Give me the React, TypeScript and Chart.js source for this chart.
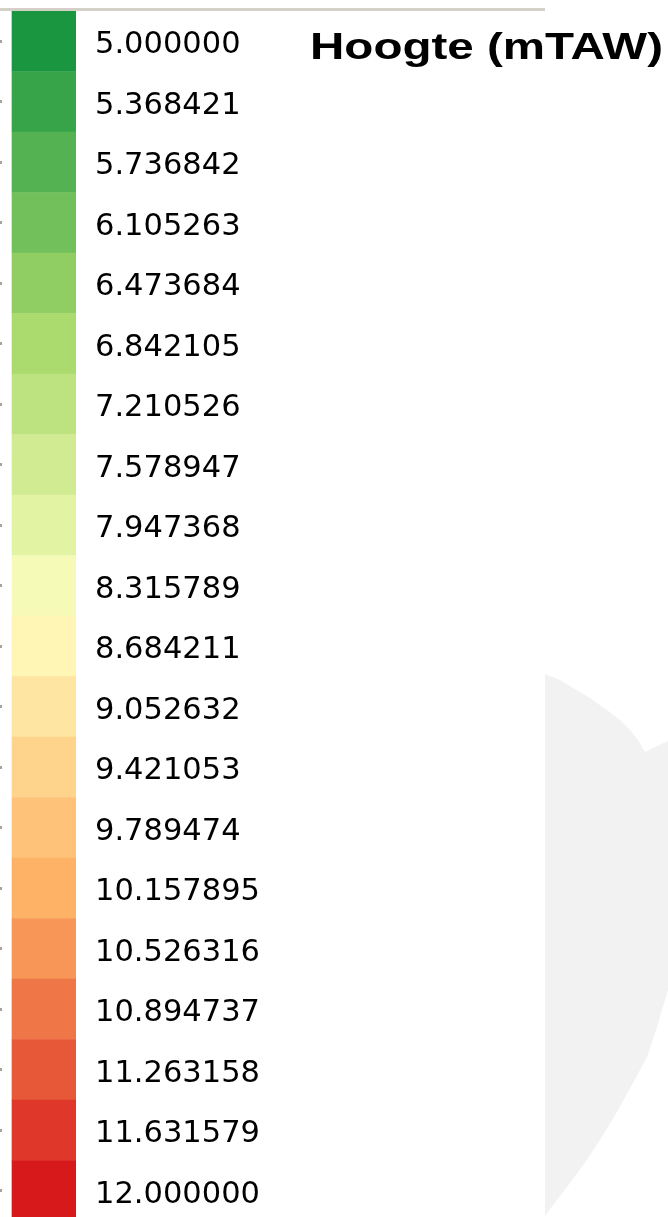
import React, { useEffect, useRef } from "react";
import { Chart, registerables } from "chart.js";

Chart.register(...registerables);

// Legend classes (class thresholds, top to bottom)
const thresholdLabels = [
  "5.000000", "5.368421", "5.736842", "6.105263", "6.473684",
  "6.842105", "7.210526", "7.578947", "7.947368", "8.315789",
  "8.684211", "9.052632", "9.421053", "9.789474", "10.157895",
  "10.526316", "10.894737", "11.263158", "11.631579", "12.000000",
];

// Each swatch spans the full legend key width
const swatchExtent = [1, 1, 1, 1, 1, 1, 1, 1, 1, 1, 1, 1, 1, 1, 1, 1, 1, 1, 1, 1];

const swatchColors = [
  "#1a9641", "#37a44a", "#55b252", "#72c05b", "#90ce63",
  "#abdb6e", "#bde380", "#d0eb92", "#e3f3a4", "#f5fbb6",
  "#fff6b5", "#fee5a1", "#fed48d", "#fec379", "#fdb266",
  "#f79656", "#ef7747", "#e75839", "#df382a", "#d7191c",
];

const legendTitle = "Hoogte (mTAW)";

const W = 668;
const H = 1222;

const decorPlugin = {
  id: "decor",
  beforeDraw(chart: any) {
    const ctx = chart.ctx;
    ctx.save();
    // faint background map shape on the right
    ctx.fillStyle = "#f2f2f2";
    ctx.beginPath();
    const pts = [
      [545, 674], [560, 680], [573, 688], [590, 698], [607, 710], [620, 720],
      [630, 730], [638, 740], [645, 752], [655, 747], [668, 741],
      [668, 990], [662, 1010], [657, 1027], [647, 1057], [633, 1083],
      [617, 1112], [600, 1140], [584, 1164], [567, 1187], [547, 1213], [545, 1216],
      [545, 1222],
    ];
    ctx.moveTo(pts[0][0], pts[0][1]);
    for (let i = 1; i < pts.length; i++) ctx.lineTo(pts[i][0], pts[i][1]);
    ctx.closePath();
    ctx.fill();
    // top rule
    ctx.fillStyle = "#d4d0c8";
    ctx.fillRect(0, 8, 545, 3);
    ctx.restore();
  },
  afterDraw(chart: any) {
    const ctx = chart.ctx;
    ctx.save();
    ctx.fillStyle = "#000000";
    ctx.font = 'bold 36px "Liberation Sans", Arial, sans-serif';
    ctx.textAlign = "left";
    ctx.textBaseline = "alphabetic";
    const natural = ctx.measureText(legendTitle).width;
    const target = 353;
    ctx.translate(310, 59);
    ctx.scale(target / natural, 1);
    ctx.fillText(legendTitle, 0, 0);
    ctx.restore();
  },
};

export default function App() {
  const canvasRef = useRef<HTMLCanvasElement | null>(null);

  useEffect(() => {
    const canvas = canvasRef.current;
    if (!canvas) return;
    const chart = new Chart(canvas, {
      type: "bar",
      data: {
        labels: thresholdLabels,
        datasets: [
          {
            data: swatchExtent,
            backgroundColor: swatchColors,
            borderWidth: 0,
            barPercentage: 1,
            categoryPercentage: 1,
            yAxisID: "y",
            xAxisID: "x",
          },
        ],
      },
      options: {
        indexAxis: "y",
        responsive: false,
        animation: false,
        events: [],
        layout: { padding: { top: 11, bottom: 1, left: 0, right: 0 } },
        plugins: {
          legend: { display: false },
          tooltip: { enabled: false },
          title: { display: false },
        },
        scales: {
          x: { type: "linear", display: false, min: -0.15625, max: 1 },
          y: {
            type: "category",
            position: "left",
            offset: true,
            ticks: { display: false },
            grid: {
              offset: false,
              drawOnChartArea: false,
              drawTicks: true,
              tickLength: 2,
              tickWidth: 3,
              lineWidth: 3,
              tickColor: "#a8a498",
              color: "#a8a498",
            },
            border: { display: false },
            afterFit: (scale: any) => {
              scale.paddingTop = 0;
              scale.paddingBottom = 0;
            },
          },
          y2: {
            type: "category",
            position: "right",
            offset: true,
            grid: { display: false, drawTicks: false, drawOnChartArea: false },
            border: { display: false },
            ticks: {
              autoSkip: false,
              padding: 19,
              crossAlign: "near",
              color: "#000000",
              labelOffset: 4,
              font: { family: '"DejaVu Sans", Verdana, sans-serif', size: 30.5 },
            },
            afterFit: (scale: any) => {
              scale.width = W - 76;
              scale.paddingTop = 0;
              scale.paddingBottom = 0;
            },
          },
        },
      } as any,
      plugins: [decorPlugin],
    });
    return () => chart.destroy();
  }, []);

  return (
    <div
      style={{
        position: "absolute",
        left: 0,
        top: 0,
        width: W,
        height: 1217,
        overflow: "hidden",
        background: "#ffffff",
      }}
    >
      <canvas ref={canvasRef} width={W} height={H} style={{ display: "block" }} />
    </div>
  );
}
